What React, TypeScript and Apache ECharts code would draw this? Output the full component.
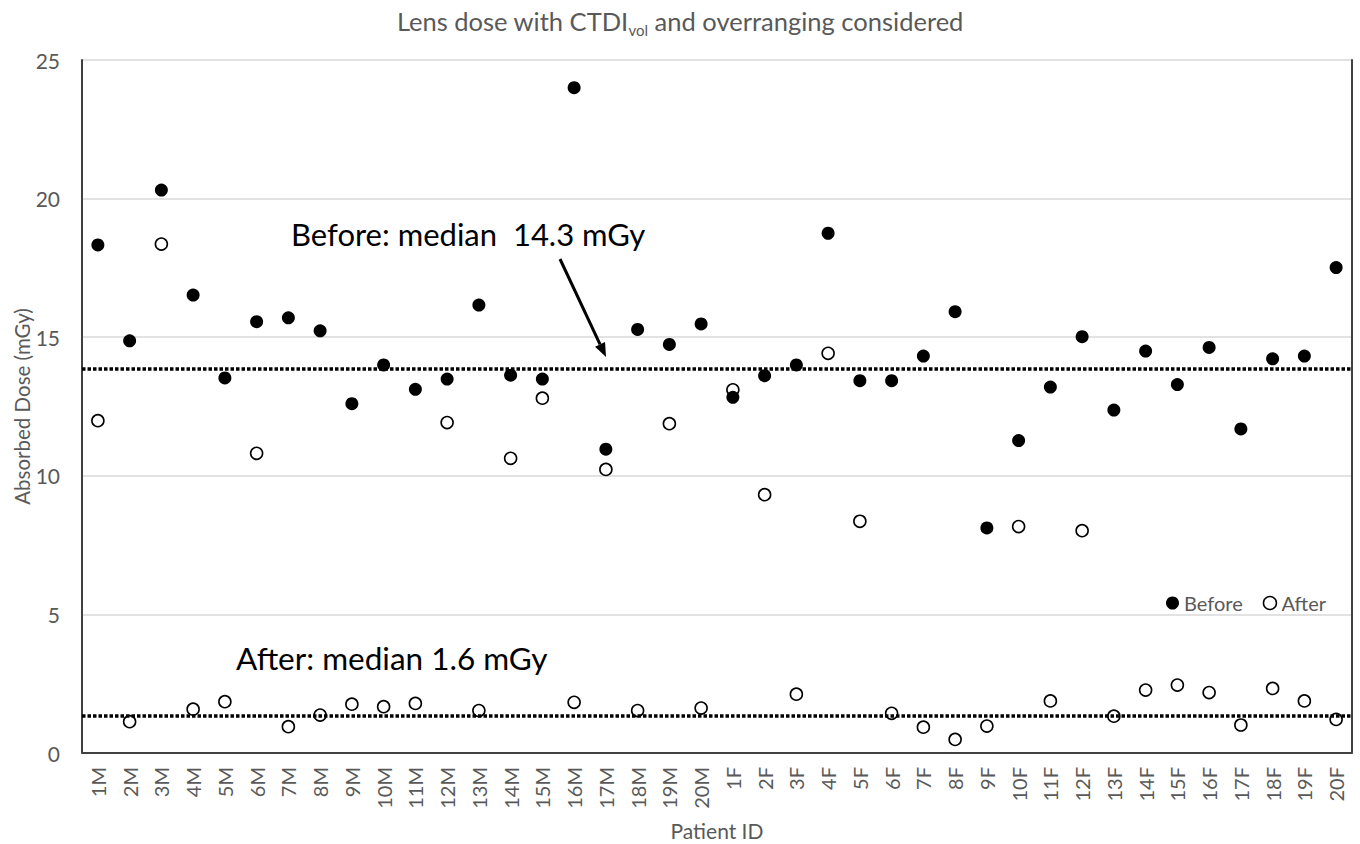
import React, { useEffect, useRef } from "react";
import * as echarts from "echarts";

const categories = [
  "1M", "2M", "3M", "4M", "5M", "6M", "7M", "8M", "9M", "10M",
  "11M", "12M", "13M", "14M", "15M", "16M", "17M", "18M", "19M", "20M",
  "1F", "2F", "3F", "4F", "5F", "6F", "7F", "8F", "9F", "10F",
  "11F", "12F", "13F", "14F", "15F", "16F", "17F", "18F", "19F", "20F",
];

const beforeValues = [
  18.33, 14.87, 20.31, 16.52, 13.53, 15.56, 15.7, 15.23, 12.6, 14.0,
  13.12, 13.49, 16.16, 13.63, 13.49, 24.0, 10.96, 15.28, 14.74, 15.48,
  12.83, 13.61, 14.0, 18.75, 13.43, 13.43, 14.32, 15.92, 8.12, 11.27,
  13.2, 15.02, 12.37, 14.5, 13.29, 14.63, 11.69, 14.22, 14.32, 17.51,
];

const afterValues = [
  11.99, 1.13, 18.36, 1.58, 1.85, 10.81, 0.95, 1.37, 1.76, 1.67,
  1.79, 11.92, 1.53, 10.63, 12.8, 1.83, 10.23, 1.53, 11.88, 1.62,
  13.1, 9.32, 2.12, 14.42, 8.36, 1.43, 0.93, 0.49, 0.97, 8.17,
  1.88, 8.02, 1.33, 2.27, 2.45, 2.18, 1.01, 2.33, 1.88, 1.21,
];

// median reference lines as drawn in the figure
const beforeMedianLine = 13.86;
const afterMedianLine = 1.33;

const yTicks = { min: 0, max: 25, interval: 5 };

const FONT = "Lato, 'Open Sans', sans-serif";
const GREY = "#595959";

export default function App() {
  const ref = useRef<HTMLDivElement>(null);

  useEffect(() => {
    if (!ref.current) return;
    const chart = echarts.init(ref.current, undefined, { renderer: "svg" });

    // arrow geometry (annotation)
    const tip = [606, 357];
    const start = [560, 259];
    const dx = tip[0] - start[0];
    const dy = tip[1] - start[1];
    const len = Math.sqrt(dx * dx + dy * dy);
    const ux = dx / len;
    const uy = dy / len;
    const headLen = 14;
    const headHalf = 5.5;
    const bx = tip[0] - ux * headLen;
    const by = tip[1] - uy * headLen;

    const option: any = {
      animation: false,
      backgroundColor: "#fff",
      textStyle: { fontFamily: FONT },
      title: {
        text: "{a|Lens dose with CTDI}{s|vol}{a| and overranging considered}",
        left: "center",
        top: 0,
        textStyle: {
          fontWeight: "normal",
          rich: {
            a: {
              fontSize: 25.5,
              color: GREY,
              fontFamily: FONT,
              fontWeight: "normal",
              lineHeight: 32,
            },
            s: {
              fontSize: 15,
              color: GREY,
              fontFamily: FONT,
              fontWeight: "normal",
              lineHeight: 32,
              verticalAlign: "bottom",
              padding: [13, 0, 0, 0],
            },
          },
        },
      },
      legend: {
        left: 1161,
        top: 588,
        itemWidth: 13,
        itemHeight: 13,
        itemGap: 20,
        icon: "circle",
        textStyle: { fontSize: 20, color: GREY, fontFamily: FONT },
        data: [
          { name: "Before", itemStyle: { color: "#000", borderWidth: 0, opacity: 1 } },
          {
            name: "After",
            itemStyle: { color: "#fff", borderColor: "#000", borderWidth: 1.5 },
          },
        ],
      },
      grid: {
        left: 82,
        right: 8,
        top: 60,
        bottom: 91,
        containLabel: false,
        outerBoundsMode: "none",
      },
      xAxis: [
        {
          type: "category",
          data: categories,
          boundaryGap: true,
          axisLine: { show: true, lineStyle: { color: "#d9d9d9", width: 1.5 } },
          axisTick: { show: false },
          axisLabel: {
            rotate: 90,
            fontSize: 20,
            color: GREY,
            fontFamily: FONT,
            margin: 14,
            interval: 0,
          },
          name: "Patient ID",
          nameLocation: "middle",
          nameGap: 67,
          nameTextStyle: { fontSize: 21, color: GREY, fontFamily: FONT },
        },
        {
          type: "category",
          data: categories,
          position: "top",
          axisLine: { show: true, lineStyle: { color: "#404040", width: 2 } },
          axisTick: { show: false },
          axisLabel: { show: false },
        },
      ],
      yAxis: [
        {
          type: "value",
          min: yTicks.min,
          max: yTicks.max,
          interval: yTicks.interval,
          axisLine: { show: true, lineStyle: { color: "#404040", width: 2 } },
          axisTick: { show: false },
          splitLine: { show: true, lineStyle: { color: "#d9d9d9", width: 1.5 } },
          axisLabel: { fontSize: 21, color: GREY, fontFamily: FONT, margin: 22 },
          name: "Absorbed Dose (mGy)",
          nameLocation: "middle",
          nameGap: 50,
          nameMoveOverlap: false,
          nameTextStyle: { fontSize: 20.5, color: GREY, fontFamily: FONT },
        },
        {
          type: "value",
          min: yTicks.min,
          max: yTicks.max,
          interval: yTicks.interval,
          position: "right",
          axisLine: { show: true, lineStyle: { color: "#404040", width: 2 } },
          axisTick: { show: false },
          splitLine: { show: false },
          axisLabel: { show: false },
        },
      ],
      series: [
        {
          name: "After",
          type: "scatter",
          data: afterValues,
          symbol: "circle",
          symbolSize: 12,
          itemStyle: { color: "#fff", borderColor: "#000", borderWidth: 1.6, opacity: 1 },
          z: 3,
          markLine: {
            silent: true,
            symbol: ["none", "none"],
            label: { show: false },
            lineStyle: { color: "#000", width: 3.5, type: [3.5, 2], opacity: 1 },
            data: [{ yAxis: beforeMedianLine }, { yAxis: afterMedianLine }],
          },
        },
        {
          name: "Before",
          type: "scatter",
          data: beforeValues,
          symbol: "circle",
          symbolSize: 13,
          itemStyle: { color: "#000", opacity: 1 },
          z: 4,
        },
      ],
      graphic: [
        {
          type: "text",
          x: 291,
          y: 234,
          style: {
            text: "Before: median  14.3 mGy",
            fontSize: 31,
            fontFamily: FONT,
            fill: "#000",
            verticalAlign: "middle",
          },
          z: 10,
        },
        {
          type: "text",
          x: 236,
          y: 658,
          style: {
            text: "After: median 1.6 mGy",
            fontSize: 31.5,
            fontFamily: FONT,
            fill: "#000",
            verticalAlign: "middle",
          },
          z: 10,
        },
        {
          type: "line",
          shape: { x1: start[0], y1: start[1], x2: bx, y2: by },
          style: { stroke: "#000", lineWidth: 3 },
          z: 10,
        },
        {
          type: "polygon",
          shape: {
            points: [
              [tip[0], tip[1]],
              [bx + -uy * headHalf, by + ux * headHalf],
              [bx - -uy * headHalf, by - ux * headHalf],
            ],
          },
          style: { fill: "#000" },
          z: 10,
        },
      ],
    };

    chart.setOption(option);
    return () => chart.dispose();
  }, []);

  return (
    <div
      ref={ref}
      style={{
        position: "fixed",
        left: 0,
        top: 0,
        width: 1360,
        height: 844,
        background: "#fff",
      }}
    />
  );
}
